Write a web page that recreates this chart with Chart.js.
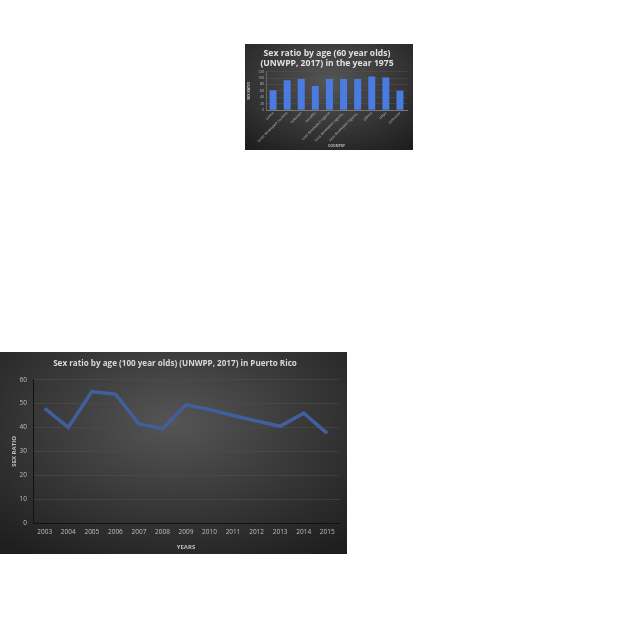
<!DOCTYPE html>
<html><head><meta charset="utf-8">
<script src="https://cdn.jsdelivr.net/npm/chart.js@4"></script>
<style>
html,body{margin:0;padding:0;background:#fff;width:640px;height:640px;overflow:hidden;}
.box{position:absolute;background:radial-gradient(ellipse 75% 80% at 50% 35%, #555 0%, #3c3c3c 45%, #1e1e1e 100%);}
#b1{left:245px;top:44px;width:168px;height:106px;}
#b2{left:0px;top:352px;width:347px;height:202px;}
canvas{display:block;}
</style></head>
<body>
<div class="box" id="b1"><canvas id="c1" width="168" height="106"></canvas></div>
<div class="box" id="b2"><canvas id="c2" width="347" height="202"></canvas></div>
<script>
const countries = ["Latvia","Least developed countries","Lebanon","Lesotho","Less developed regions","Less developed regions, excluding least developed countries","Less developed regions, excluding China","Liberia","Libya","Lithuania"];
const ratio1975 = [62, 93, 97, 75, 97, 97, 97, 105, 102, 60];
const years = ["2003","2004","2005","2006","2007","2008","2009","2010","2011","2012","2013","2014","2015"];
const ratioPR = [48, 40, 55, 54, 41.5, 39.5, 49.5, 47.5, 45, 42.7, 40.5, 46, 37.5];
const yTicks1 = {min:0, max:120, step:20};
const yTicks2 = {min:0, max:60, step:10};

const FONT = "'Open Sans', 'DejaVu Sans', sans-serif";
const txt = '#bfbfbf';

new Chart(document.getElementById('c1'), {
  type:'bar',
  data:{labels:countries, datasets:[{data:ratio1975, backgroundColor:'#4a7be0', borderWidth:0, categoryPercentage:0.9, barPercentage:0.55}]},
  options:{
    responsive:false, animation:false, devicePixelRatio:1,
    layout:{padding:{left:2,right:6,top:4,bottom:2}},
    plugins:{legend:{display:false}, tooltip:{enabled:false},
      title:{display:true, text:["Sex ratio by age (60 year olds)","(UNWPP, 2017) in the year 1975"], color:'#e0e0e0', font:{family:FONT, size:8.6, weight:'bold', lineHeight:1.2}, padding:{top:0,bottom:3}}},
    scales:{
      x:{grid:{display:false, drawTicks:false}, border:{color:'#777'},
        ticks:{color:txt, font:{family:FONT,size:3.5}, minRotation:45, maxRotation:45, padding:1, autoSkip:false,
          callback:function(v,i){const s=countries[i]; return s.length>24? s.slice(0,24):s;}},
        title:{display:true, text:'COUNTRY', color:txt, font:{family:FONT,size:3.5,weight:'bold'}, padding:0},
        afterFit:function(s){s.height=38;}},
      y:{min:yTicks1.min, max:yTicks1.max, grid:{color:'#555', lineWidth:0.5, drawTicks:false}, border:{display:true,color:'#666'},
        ticks:{stepSize:yTicks1.step, color:txt, font:{family:FONT,size:3.5}, padding:2, autoSkip:false},
        title:{display:true, text:'SEX RATIO', color:txt, font:{family:FONT,size:3.5,weight:'bold'}, padding:0},
        afterFit:function(s){s.width=19;}}
    }
  }
});

new Chart(document.getElementById('c2'), {
  type:'line',
  data:{labels:years, datasets:[{data:ratioPR, borderColor:'#3f5f9f', borderWidth:3.5, pointRadius:0, tension:0, fill:false}]},
  options:{
    responsive:false, animation:false, devicePixelRatio:1,
    layout:{padding:{left:11,right:8,top:7,bottom:3}},
    plugins:{legend:{display:false}, tooltip:{enabled:false},
      title:{display:true, text:"Sex ratio by age (100 year olds) (UNWPP, 2017) in Puerto Rico", color:'#d9d9d9', font:{family:FONT, size:8.1, weight:'bold'}, padding:{top:0,bottom:11}}},
    scales:{
      x:{offset:true, grid:{display:false, drawTicks:false}, border:{color:'#111', width:1},
        ticks:{color:txt, font:{family:FONT,size:6.5}, padding:5, autoSkip:false, maxRotation:0},
        title:{display:true, text:'YEARS', color:txt, font:{family:FONT,size:6,weight:'bold'}, padding:{top:4,bottom:0}},
        afterFit:function(s){s.height=28;}},
      y:{min:yTicks2.min, max:yTicks2.max, grid:{color:'#4d4d4d', lineWidth:0.6, drawTicks:false}, border:{display:true,color:'#111',width:1},
        ticks:{stepSize:yTicks2.step, color:txt, font:{family:FONT,size:6.5}, padding:6},
        title:{display:true, text:'SEX RATIO', color:txt, font:{family:FONT,size:6,weight:'bold'}, padding:0},
        afterFit:function(s){s.width=22;}}
    }
  }
});
</script>
</body></html>
